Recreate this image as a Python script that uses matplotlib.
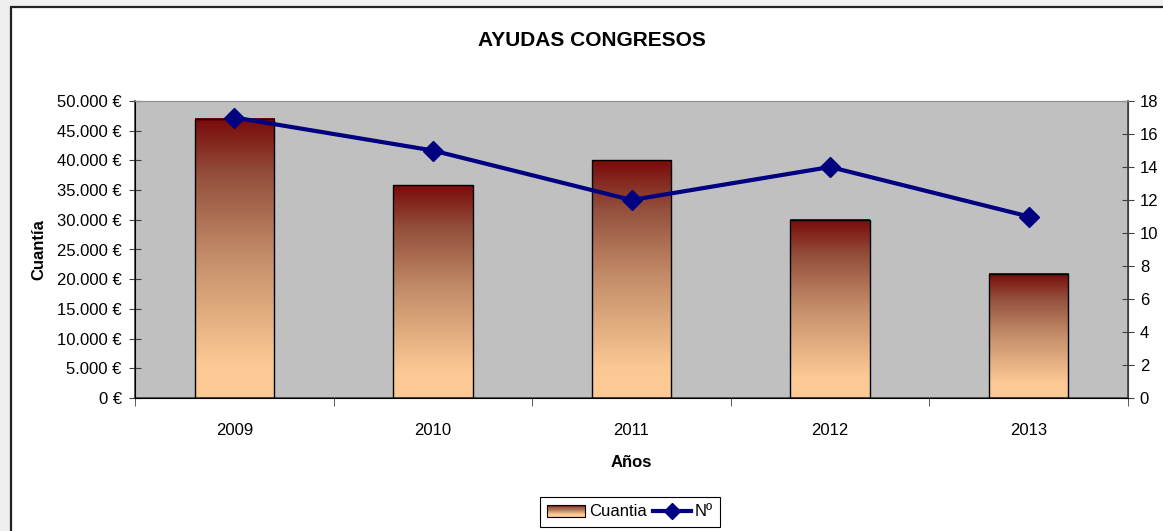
import matplotlib.pyplot as plt
import numpy as np
from matplotlib.colors import LinearSegmentedColormap
from matplotlib.patches import Rectangle
from matplotlib.lines import Line2D
from matplotlib.legend_handler import HandlerBase

plt.rcParams['font.family'] = ['Liberation Sans', 'DejaVu Sans']

years = ['2009', '2010', '2011', '2012', '2013']
cuantia = [47000, 35800, 40000, 30000, 20900]
numero = [17, 15, 12, 14, 11]

cmap = LinearSegmentedColormap.from_list(
    'bars', [(0.0, '#fdca96'), (0.12, '#fcc994'), (0.5, '#c58e6a'),
             (0.8, '#934f3c'), (1.0, '#7a0a0a')])


class GradientHandler(HandlerBase):
    def create_artists(self, legend, orig, xd, yd, w, h, fs, trans):
        arts = []
        n = 10
        for i in range(n):
            r = Rectangle((xd, yd + h * i / n), w, h / n,
                          facecolor=cmap(i / (n - 1)), edgecolor='none',
                          transform=trans)
            arts.append(r)
        arts.append(Rectangle((xd, yd), w, h, facecolor='none',
                              edgecolor='black', lw=0.8, transform=trans))
        return arts


fs = 12
fig = plt.figure(figsize=(11.63, 5.31), dpi=100)
fig.patch.set_facecolor('#efefef')
frame = Rectangle((10.5 / 1163, -0.1), 1.2, 1 - 6.5 / 531 + 0.1,
                  transform=fig.transFigure, facecolor='white',
                  edgecolor='#222222', lw=1.6, zorder=-5)
fig.patches.append(frame)

ax = fig.add_axes([135 / 1163, 1 - 398 / 531, (1128 - 135) / 1163, (398 - 101) / 531])
ax.set_facecolor('#c0c0c0')

x = np.arange(len(years))
width = 0.4
grad = np.linspace(1, 0, 256).reshape(-1, 1)
for xi, v in zip(x, cuantia):
    ax.imshow(grad, extent=[xi - width / 2, xi + width / 2, 0, v],
              aspect='auto', cmap=cmap, vmin=0, vmax=1, zorder=2)
bars = ax.bar(x, cuantia, width, facecolor='none', edgecolor='black',
              linewidth=1, zorder=3)

ax.set_xlim(-0.5, len(years) - 0.5)
ax.set_ylim(0, 50000)
ax.set_yticks(np.arange(0, 50001, 5000))
ax.set_yticklabels([('{:,}'.format(v).replace(',', '.') + ' €') for v in range(0, 50001, 5000)])
ax.set_xticks(x)
ax.set_xticklabels(years)
ax.set_xticks(np.arange(-0.5, len(years), 1), minor=True)
ax.tick_params(axis='x', which='major', length=0, pad=18, labelsize=fs)
ax.tick_params(axis='x', which='minor', length=6, direction='out', color='#404040')
ax.tick_params(axis='y', length=9, direction='inout', labelsize=fs, color='#404040', pad=5)
for s in ['left', 'bottom']:
    ax.spines[s].set_color('#404040')
    ax.spines[s].set_linewidth(1.2)
ax.spines['top'].set_color('#909090')
ax.spines['right'].set_color('#404040')
ax.set_ylabel('Cuantía', fontsize=fs, fontweight='bold', labelpad=8)
ax.set_xlabel('Años', fontsize=fs, fontweight='bold', labelpad=12)

ax2 = ax.twinx()
line, = ax2.plot(x, numero, color='#000080', lw=3, marker='D', markersize=10, zorder=4)
ax2.set_ylim(0, 18)
ax2.set_yticks(np.arange(0, 19, 2))
ax2.tick_params(axis='y', length=9, direction='inout', labelsize=fs, color='#404040', pad=4)
ax2.spines['right'].set_color('#404040')
ax2.spines['right'].set_linewidth(1.2)
ax2.spines['top'].set_color('#909090')

fig.text(592 / 1163, 1 - 40 / 531, 'AYUDAS CONGRESOS', ha='center', va='center',
         fontsize=15, fontweight='bold')

leg_line = Line2D([], [], color='#000080', lw=3, marker='D', markersize=8)
leg = fig.legend([bars[0], leg_line], ['Cuantia', 'Nº'],
                 handler_map={bars[0].__class__: GradientHandler()},
                 loc='center', bbox_to_anchor=(630 / 1163, 1 - 512 / 531),
                 ncol=2, fontsize=fs, frameon=True, fancybox=False,
                 edgecolor='black', framealpha=1, handlelength=2.3,
                 handletextpad=0.2, columnspacing=0.4, borderpad=0.45,
                 borderaxespad=0)
leg.get_frame().set_linewidth(0.8)

fig.savefig('out.png', dpi=100, facecolor=fig.get_facecolor())
